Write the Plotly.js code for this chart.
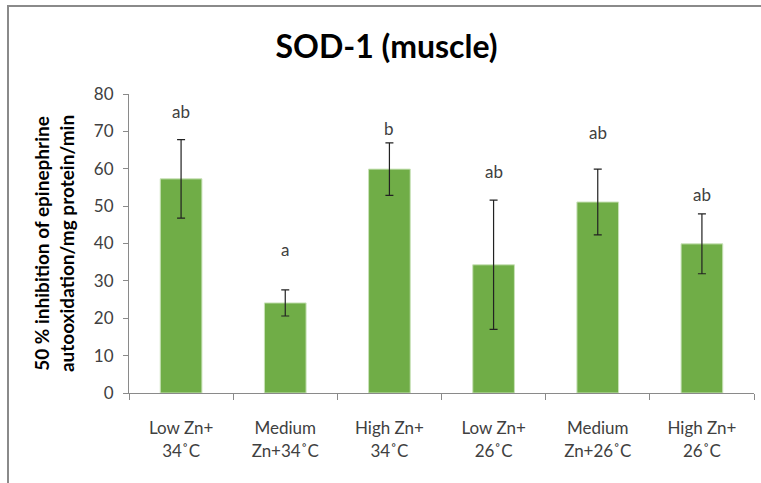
<!DOCTYPE html>
<html>
<head>
<meta charset="utf-8">
<script src="https://cdn.plot.ly/plotly-3.0.1.min.js"></script>
<style>
  html, body { margin: 0; padding: 0; background: #fff; }
  #wrap { position: relative; width: 761px; height: 483px; }
  #chart { width: 761px; height: 483px; }
  #frame { position: absolute; left: 7px; top: 5px; width: 760px; height: 480px;
           border-left: 2px solid #8a8a8a; border-top: 2px solid #8a8a8a; pointer-events: none; }
</style>
</head>
<body>
<div id="wrap">
  <div id="chart"></div>
  <div id="frame"></div>
</div>
<script>
const categories = ["Low Zn+<br>34˚C", "Medium<br>Zn+34˚C", "High Zn+<br>34˚C", "Low Zn+<br>26˚C", "Medium<br>Zn+26˚C", "High Zn+<br>26˚C"];
const values = [57.3, 24.1, 59.9, 34.3, 51.1, 39.9];
const errors = [10.5, 3.5, 7.0, 17.3, 8.8, 8.0];
const letters = ["ab", "a", "b", "ab", "ab", "ab"];
const letterY = [75.2, 38.4, 70.7, 59.3, 69.7, 53.2];

const FONT = "Lato, 'Open Sans', sans-serif";

const trace = {
  type: "bar",
  x: categories,
  y: values,
  marker: { color: "#70AD47", line: { color: "#c9e2b8", width: 1 } },
  error_y: { type: "data", array: errors, visible: true, color: "#222222", thickness: 1.2, width: 4 },
  hoverinfo: "none"
};

const annotations = letters.map((t, i) => ({
  x: categories[i], y: letterY[i], xref: "x", yref: "y",
  text: t, showarrow: false,
  font: { family: FONT, size: 17, color: "#404040" }
}));

const layout = {
  width: 761, height: 483,
  margin: { l: 129, r: 7, t: 94, b: 90 },
  paper_bgcolor: "#ffffff", plot_bgcolor: "#ffffff",
  showlegend: false,
  bargap: 0.6,
  title: { text: "<b>SOD-1 (muscle)</b>", x: 0.508, xanchor: "center", y: 0.903, yanchor: "middle",
           font: { family: FONT, size: 32, color: "#000000" } },
  xaxis: {
    type: "category",
    showline: true, linecolor: "#8a8a8a", linewidth: 1,
    ticks: "outside", tickson: "boundaries", ticklen: 6, tickcolor: "#8a8a8a",
    showgrid: false, zeroline: false,
    ticklabelstandoff: 20,
    tickfont: { family: FONT, size: 17, color: "#404040" }
  },
  yaxis: {
    range: [0, 80], dtick: 10,
    showline: true, linecolor: "#8a8a8a", linewidth: 1,
    ticks: "outside", ticklen: 5, tickcolor: "#8a8a8a",
    showgrid: false, zeroline: false,
    ticklabelstandoff: 6,
    tickfont: { family: FONT, size: 17, color: "#404040" },
    title: { text: "<b>50 % inhibition of epinephrine<br>autooxidation/mg protein/min</b>",
             standoff: 14, font: { family: FONT, size: 19, color: "#000000" } }
  },
  annotations: annotations
};

Plotly.newPlot("chart", [trace], layout, { displayModeBar: false, staticPlot: true });
</script>
</body>
</html>
